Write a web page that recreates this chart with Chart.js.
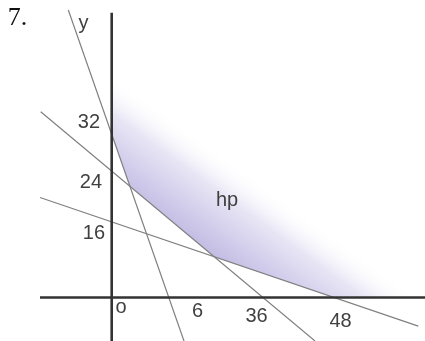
<!DOCTYPE html>
<html>
<head>
<meta charset="utf-8">
<script src="https://cdn.jsdelivr.net/npm/chart.js@4.4.1/dist/chart.umd.min.js"></script>
<style>
  html, body { margin: 0; padding: 0; background: #fff; }
  canvas { display: block; }
</style>
</head>
<body>
<canvas id="sketch" width="425" height="341"></canvas>
<script>
// Sketch units, origin where the axes cross, y pointing up
const xAxisEnds = [{ x: -71.7, y: 0 }, { x: 313.3, y: 0 }];
const yAxisEnds = [{ x: 0, y: 284.8 }, { x: 0, y: -43.5 }];
const steepLine = [{ x: -43.4, y: 287.5 }, { x: 72.3, y: -43.5 }];
const middleLine = [{ x: -71, y: 185.8 }, { x: 203.3, y: -43.5 }];
const shallowLine = [{ x: -71.7, y: 100 }, { x: 306.6, y: -28.6 }];
const regionEdge = [
  { x: 0, y: 163.5 },
  { x: 18, y: 111.8 },
  { x: 102.7, y: 40.6 },
  { x: 222.5, y: 0 },
  { x: 313.3, y: 0 },
];

const xTickLabels = ["o", "6", "36", "48"];
const xTickValues = [9.3, 85.8, 144.8, 228.8];
const yTickLabels = ["32", "24", "16"];
const yTickValues = [169.5, 109.5, 58.5];

// Gradient for the region: lavender at the edge, fading to white up and right
function regionFill(context) {
  const { ctx, chartArea, scales } = context.chart;
  if (!chartArea) return "rgba(200,194,230,0.8)";
  const px = scales.x.getPixelForValue(102.7);
  const py = scales.y.getPixelForValue(40.6);
  const dx = 0.589, dy = -0.808;
  const grad = ctx.createLinearGradient(px - dx * 4, py - dy * 4, px + dx * 88, py + dy * 88);
  grad.addColorStop(0, "rgb(192,185,226)");
  grad.addColorStop(0.3, "rgb(210,205,235)");
  grad.addColorStop(0.65, "rgb(232,230,245)");
  grad.addColorStop(1, "rgba(255,255,255,0)");
  return grad;
}

const textPlugin = {
  id: "sketchText",
  afterDatasetsDraw(chart) {
    const { ctx, scales } = chart;
    const sx = (v) => scales.x.getPixelForValue(v);
    const sy = (v) => scales.y.getPixelForValue(v);
    ctx.save();
    ctx.fillStyle = "#404040";
    ctx.font = '20px "Liberation Sans", Arial, sans-serif';

    // y axis labels, left of the axis
    const yGap = [11.7, 9.7, 6.7];
    ctx.textAlign = "right";
    ctx.textBaseline = "alphabetic";
    yTickLabels.forEach((label, i) => {
      ctx.fillText(label, sx(0) - yGap[i], sy(yTickValues[i]));
    });

    // x axis labels drop a little further going right
    const xDrop = [15.5, 19.2, 24.2, 29.2];
    ctx.textAlign = "center";
    xTickLabels.forEach((label, i) => {
      ctx.fillText(label, sx(xTickValues[i]), sy(0) + xDrop[i]);
    });

    ctx.fillText("y", sx(-28.2), sy(268.5));
    ctx.fillText("hp", sx(115.3), sy(91.5));

    ctx.textAlign = "left";
    ctx.fillStyle = "#111";
    ctx.font = '26px "Liberation Serif", "Times New Roman", serif';
    ctx.fillText("7.", sx(-104), sy(272.5));
    ctx.restore();
  },
};

function lineSet(data, color, width) {
  return {
    data,
    borderColor: color,
    borderWidth: width,
    pointRadius: 0,
    tension: 0,
    fill: false,
  };
}

document.addEventListener("DOMContentLoaded", () => {
  new Chart(document.getElementById("sketch"), {
    type: "line",
    data: {
      datasets: [
        lineSet(xAxisEnds, "#333", 2.6),
        lineSet(yAxisEnds, "#333", 2.6),
        lineSet(steepLine, "#808080", 1.2),
        lineSet(middleLine, "#808080", 1.2),
        lineSet(shallowLine, "#808080", 1.2),
        {
          data: regionEdge,
          borderWidth: 0,
          borderColor: "rgba(0,0,0,0)",
          backgroundColor: regionFill,
          pointRadius: 0,
          tension: 0,
          fill: "end",
        },
      ],
    },
    options: {
      responsive: false,
      animation: false,
      events: [],
      layout: { padding: 0 },
      scales: {
        x: { type: "linear", min: -111.7, max: 313.3, display: false },
        y: { type: "linear", min: -43.5, max: 297.5, display: false },
      },
      plugins: {
        legend: { display: false },
        tooltip: { enabled: false },
      },
    },
    plugins: [textPlugin],
  });
});
</script>
</body>
</html>
